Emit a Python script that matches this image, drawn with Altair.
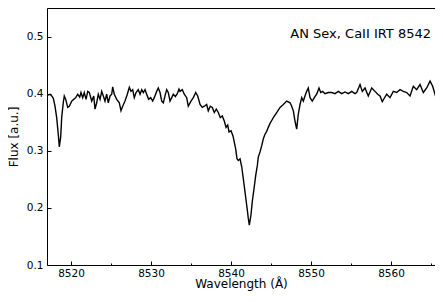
import altair as alt
import pandas as pd

# Spectrum trace (wavelength in Angstrom, flux in a.u.)
wavelength = [
    8517.00, 8517.38, 8517.59, 8517.79, 8518.00, 8518.21, 8518.41, 8518.54, 8518.71, 8518.84,
    8519.04, 8519.16, 8519.34, 8519.59, 8519.79, 8520.09, 8520.34, 8520.59, 8520.84, 8521.09,
    8521.25, 8521.46, 8521.66, 8521.88, 8522.09, 8522.29, 8522.59, 8522.84, 8523.00, 8523.21,
    8523.41, 8523.63, 8523.84, 8524.04, 8524.25, 8524.46, 8524.66, 8524.88, 8525.09, 8525.21,
    8525.41, 8525.71, 8526.04, 8526.25, 8526.46, 8526.75, 8527.04, 8527.29, 8527.50, 8527.71,
    8527.91, 8528.13, 8528.41, 8528.63, 8528.84, 8529.04, 8529.25, 8529.46, 8529.71, 8529.96,
    8530.21, 8530.41, 8530.71, 8530.91, 8531.13, 8531.34, 8531.54, 8531.75, 8531.96, 8532.16,
    8532.38, 8532.59, 8532.79, 8533.04, 8533.29, 8533.50, 8533.63, 8533.91, 8534.16, 8534.46,
    8534.66, 8535.00, 8535.29, 8535.59, 8535.84, 8536.13, 8536.41, 8536.66, 8536.96, 8537.16,
    8537.41, 8537.66, 8537.91, 8538.16, 8538.41, 8538.66, 8538.91, 8539.16, 8539.38, 8539.59,
    8539.75, 8540.00, 8540.25, 8540.41, 8540.59, 8540.75, 8540.91, 8541.13, 8541.34, 8541.54,
    8541.75, 8541.96, 8542.16, 8542.29, 8542.50, 8542.66, 8542.88, 8543.09, 8543.29, 8543.41,
    8543.63, 8543.84, 8544.04, 8544.25, 8544.46, 8544.66, 8544.88, 8545.09, 8545.29, 8545.71,
    8546.13, 8546.54, 8546.96, 8547.38, 8547.59, 8547.79, 8548.00, 8548.21, 8548.41, 8548.63,
    8548.84, 8549.04, 8549.25, 8549.46, 8549.66, 8549.88, 8550.16, 8550.41, 8550.71, 8551.00,
    8551.21, 8551.46, 8551.75, 8552.16, 8552.59, 8553.00, 8553.41, 8553.84, 8554.25, 8554.66,
    8555.09, 8555.50, 8555.71, 8556.13, 8556.41, 8556.75, 8557.16, 8557.59, 8558.00, 8558.34,
    8558.63, 8558.91, 8559.16, 8559.46, 8559.88, 8560.29, 8560.71, 8561.13, 8561.54, 8561.96,
    8562.38, 8562.79, 8563.21, 8563.63, 8564.04, 8564.46, 8564.88, 8565.21, 8565.50, 8565.79,
    8566.13, 8566.46,
]
flux = [
    0.397, 0.399, 0.396, 0.392, 0.378, 0.358, 0.329, 0.307, 0.324, 0.359,
    0.385, 0.396, 0.390, 0.376, 0.378, 0.387, 0.390, 0.393, 0.399, 0.394,
    0.402, 0.393, 0.402, 0.390, 0.404, 0.402, 0.387, 0.396, 0.373, 0.384,
    0.399, 0.390, 0.404, 0.396, 0.387, 0.399, 0.384, 0.396, 0.399, 0.412,
    0.399, 0.390, 0.384, 0.370, 0.378, 0.387, 0.399, 0.411, 0.404, 0.407,
    0.393, 0.402, 0.407, 0.399, 0.407, 0.402, 0.407, 0.399, 0.390, 0.393,
    0.387, 0.393, 0.404, 0.410, 0.402, 0.387, 0.384, 0.396, 0.407, 0.402,
    0.387, 0.393, 0.399, 0.395, 0.400, 0.408, 0.404, 0.407, 0.399, 0.393,
    0.378, 0.387, 0.393, 0.402, 0.396, 0.381, 0.376, 0.378, 0.381, 0.370,
    0.378, 0.376, 0.367, 0.373, 0.367, 0.358, 0.361, 0.352, 0.341, 0.345,
    0.333, 0.335, 0.326, 0.315, 0.303, 0.286, 0.283, 0.286, 0.272, 0.251,
    0.228, 0.205, 0.182, 0.170, 0.188, 0.211, 0.234, 0.257, 0.274, 0.289,
    0.298, 0.309, 0.321, 0.329, 0.334, 0.341, 0.348, 0.353, 0.358, 0.367,
    0.376, 0.381, 0.387, 0.384, 0.378, 0.370, 0.352, 0.338, 0.364, 0.381,
    0.393, 0.387, 0.396, 0.404, 0.410, 0.393, 0.387, 0.393, 0.399, 0.410,
    0.402, 0.404, 0.400, 0.402, 0.402, 0.400, 0.404, 0.400, 0.403, 0.400,
    0.404, 0.400, 0.402, 0.416, 0.404, 0.410, 0.396, 0.410, 0.404, 0.399,
    0.396, 0.386, 0.392, 0.399, 0.393, 0.404, 0.402, 0.407, 0.404, 0.402,
    0.396, 0.413, 0.407, 0.416, 0.402, 0.410, 0.422, 0.413, 0.399, 0.410,
    0.404, 0.410,
]

x_major = [8520, 8530, 8540, 8550, 8560]
x_minor = [8525, 8535, 8545, 8555, 8565]
y_major = [0.1, 0.2, 0.3, 0.4, 0.5]
x_domain = [8517.0, 8565.5]
y_domain = [0.1, 0.55]

label_text = ["AN Sex, CaII IRT 8542"]
label_x = [8565.0]
label_y = [0.498]

df = pd.DataFrame({"wl": wavelength, "flux": flux})
tdf = pd.DataFrame({"x": label_x, "y": label_y, "t": label_text})

xs = alt.Scale(domain=x_domain, nice=False, zero=False)
ys = alt.Scale(domain=y_domain, nice=False, zero=False)

base = alt.Chart(df)

line = base.mark_line(color="black", strokeWidth=1.4, clip=True).encode(
    x=alt.X("wl:Q", scale=xs, axis=alt.Axis(
        orient="bottom", values=x_major, format="d", ticks=False, grid=False,
        labelPadding=3, title="Wavelength (Å)", titlePadding=0, labelFontSize=10.5,
        titleFontSize=12)),
    y=alt.Y("flux:Q", scale=ys, axis=alt.Axis(
        orient="left", values=y_major, format=".1f", ticks=False, grid=False,
        labelPadding=4, title="Flux [a.u.]", titlePadding=6, labelFontSize=10.5,
        titleFontSize=12)),
)

major_ticks = base.mark_line(opacity=0).encode(
    x=alt.X("wl:Q", scale=xs, axis=alt.Axis(
        orient="bottom", values=x_major, labels=False, domain=False, grid=False,
        ticks=True, tickSize=4, offset=-4, title=None)),
    y=alt.Y("flux:Q", scale=ys, axis=alt.Axis(
        orient="left", values=y_major, labels=False, domain=False, grid=False,
        ticks=True, tickSize=4, offset=-4, title=None)),
)

minor_ticks = base.mark_line(opacity=0).encode(
    x=alt.X("wl:Q", scale=xs, axis=alt.Axis(
        orient="bottom", values=x_minor, labels=False, domain=False, grid=False,
        ticks=True, tickSize=2, offset=-2, title=None)),
    y=alt.Y("flux:Q", scale=ys, axis=None),
)

top_frame = base.mark_line(opacity=0).encode(
    x=alt.X("wl:Q", scale=xs, axis=alt.Axis(
        orient="top", labels=False, ticks=False, grid=False, domain=True, title=None)),
    y=alt.Y("flux:Q", scale=ys, axis=None),
)

text = alt.Chart(tdf).mark_text(
    align="right", baseline="alphabetic", font="DejaVu Sans", fontSize=13, color="black"
).encode(
    x=alt.X("x:Q", scale=xs, axis=None),
    y=alt.Y("y:Q", scale=ys, axis=None),
    text="t:N",
)

chart = (
    alt.layer(line, major_ticks, minor_ticks, top_frame, text)
    .resolve_axis(x="independent", y="independent")
    .properties(
        width=388,
        height=257,
        autosize=alt.AutoSizeParams(type="none"),
        padding={"left": 39, "top": 0, "right": 0, "bottom": 29},
        background="white",
    )
    .configure_view(strokeOpacity=0)
    .configure_axis(
        labelFont="DejaVu Sans", titleFont="DejaVu Sans", labelColor="black",
        titleColor="black", domainColor="black", tickColor="black",
        titleFontWeight="normal", tickWidth=1, domainWidth=1,
    )
)

chart.save("out.html", embed_options={"renderer": "svg", "actions": False})
